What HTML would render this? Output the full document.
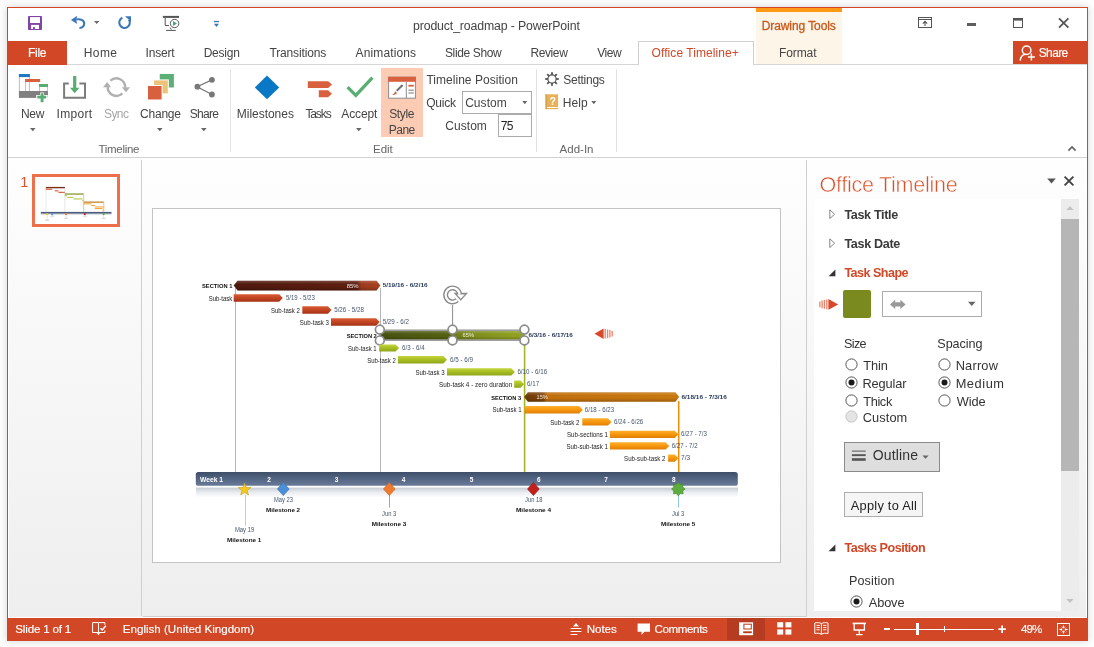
<!DOCTYPE html>
<html><head><meta charset="utf-8"><title>product_roadmap - PowerPoint</title><style>
html,body{margin:0;padding:0}
body{width:1094px;height:647px;position:relative;overflow:hidden;background:#fdfdfd;font-family:"Liberation Sans",sans-serif}
.a{position:absolute;display:block}
.t{position:absolute;white-space:nowrap;display:block}
#win{position:absolute;left:7px;top:7px;width:1079px;height:632px;border:1px solid #d24726;background:#fff;box-shadow:0 0 7px rgba(0,0,0,.17)}
</style></head><body>
<div id="win"></div>
<svg class="a" style="left:28px;top:16px" width="14" height="14" viewBox="0 0 14 14"><rect x="0" y="0" width="14" height="14" rx="0.8" fill="#8344a6"/><rect x="2" y="1.1" width="10" height="5.9" fill="#fff"/><rect x="3" y="8.9" width="8" height="4.1" fill="#fff"/><rect x="5" y="11.1" width="1.9" height="1.9" fill="#8344a6"/></svg>
<svg class="a" style="left:70px;top:15px" width="16" height="15" viewBox="0 0 16 15"><path d="M6.2 4.6C10 3.6 14.4 5 14.2 8.8C14 11.6 12 12.8 9.4 13" fill="none" stroke="#3b78ba" stroke-width="2.1"/><path d="M0.9 4.9L7.2 0.8L6.2 4.9L7.2 9Z" fill="#3b78ba"/></svg>
<svg class="a" style="left:94px;top:21px" width="6" height="4" viewBox="0 0 6 4"><path d="M0 0.1H5.4L2.7 3.1Z" fill="#6a6a6a"/></svg>
<svg class="a" style="left:117px;top:15px" width="16" height="15" viewBox="0 0 16 15"><path d="M5.4 2.8A5.3 5.3 0 1 0 11.9 4.6" fill="none" stroke="#3b78ba" stroke-width="2.1"/><path d="M8 1.2H14V7.2L11.4 4.2Z" fill="#3b78ba"/></svg>
<svg class="a" style="left:162px;top:15px" width="19" height="17" viewBox="0 0 19 17"><rect x="0.9" y="0.9" width="16.1" height="2" fill="#555"/><path d="M3.2 3V10.5H7" fill="none" stroke="#555" stroke-width="1"/><path d="M8.2 12.6L9.4 14.6M4 15.4H13.8" stroke="#555" stroke-width="1"/><circle cx="12.6" cy="8.5" r="4.2" fill="#fff" stroke="#5a5a5a" stroke-width="1"/><path d="M11 5.9V11.1L15 8.5Z" fill="#4aa587"/></svg>
<svg class="a" style="left:213px;top:20px" width="8" height="8" viewBox="0 0 8 8"><rect x="0.9" y="0.9" width="5.1" height="1.3" fill="#3b78ba"/><path d="M0.9 3.7H6L3.45 7Z" fill="#3b78ba"/></svg>
<span class="t" style="left:413.01px;top:18px;font-size:12.3px;line-height:16px;color:#444;letter-spacing:-0.126px;">product_roadmap - PowerPoint</span>
<div class="a" style="left:756px;top:8px;width:86px;height:56px;background:#fef5e9"></div>
<div class="a" style="left:756px;top:8px;width:86px;height:4px;background:#ff9a17"></div>
<span class="t" style="left:761.69px;top:18px;font-size:12.0px;line-height:16px;color:#c8581a;letter-spacing:-0.083px;-webkit-text-stroke:0.3px #c8581a;">Drawing Tools</span>
<svg class="a" style="left:918px;top:17px" width="15" height="12" viewBox="0 0 15 12"><rect x="0.5" y="0.5" width="13" height="10" fill="none" stroke="#555" stroke-width="1"/><path d="M0.5 2.5H13.5" stroke="#555"/><path d="M7 9V4.6M4.8 6.6L7 4.4L9.2 6.6" fill="none" stroke="#555" stroke-width="1.1"/></svg>
<div class="a" style="left:967px;top:23.4px;width:9px;height:2.200000000000003px;background:#5e5e5e"></div>
<svg class="a" style="left:1013px;top:17px" width="11" height="12" viewBox="0 0 11 12"><rect x="0.5" y="1.5" width="9" height="9" fill="none" stroke="#555" stroke-width="1"/><rect x="0" y="1" width="10" height="2.6" fill="#555"/></svg>
<svg class="a" style="left:1058px;top:17px" width="12" height="12" viewBox="0 0 12 12"><path d="M1 1.3L10.4 10.7M10.4 1.3L1 10.7" stroke="#555" stroke-width="1.75"/></svg>
<div class="a" style="left:8px;top:64px;width:1079px;height:1px;background:#d6d6d6"></div>
<div class="a" style="left:8px;top:41px;width:59px;height:24px;background:#d24726"></div>
<span class="t" style="left:27.89px;top:45px;font-size:12.0px;line-height:16px;color:#fff;letter-spacing:-0.233px;-webkit-text-stroke:0.15px #fff;">File</span>
<span class="t" style="left:83.69px;top:45px;font-size:12.0px;line-height:16px;color:#444;letter-spacing:0.433px;">Home</span>
<span class="t" style="left:145.57px;top:45px;font-size:12.0px;line-height:16px;color:#444;letter-spacing:-0.204px;">Insert</span>
<span class="t" style="left:203.69px;top:45px;font-size:12.0px;line-height:16px;color:#444;letter-spacing:-0.232px;">Design</span>
<span class="t" style="left:269.41px;top:45px;font-size:12.0px;line-height:16px;color:#444;letter-spacing:-0.130px;">Transitions</span>
<span class="t" style="left:355.55px;top:45px;font-size:12.0px;line-height:16px;color:#444;letter-spacing:0.129px;">Animations</span>
<span class="t" style="left:444.97px;top:45px;font-size:12.0px;line-height:16px;color:#444;letter-spacing:-0.371px;">Slide Show</span>
<span class="t" style="left:530.49px;top:45px;font-size:12.0px;line-height:16px;color:#444;letter-spacing:-0.404px;">Review</span>
<span class="t" style="left:597.25px;top:45px;font-size:12.0px;line-height:16px;color:#444;letter-spacing:-0.473px;">View</span>
<div class="a" style="left:638px;top:41px;width:116px;height:24px;background:#fff;border:1px solid #d0d0d0;border-bottom:none;box-sizing:border-box"></div>
<span class="t" style="left:651.57px;top:45px;font-size:12.0px;line-height:16px;color:#d24726;letter-spacing:0.075px;">Office Timeline+</span>
<span class="t" style="left:779.09px;top:45px;font-size:12.0px;line-height:16px;color:#444;letter-spacing:-0.116px;">Format</span>
<div class="a" style="left:1013px;top:41px;width:74px;height:23px;background:#d24726"></div>
<svg class="a" style="left:1019px;top:44px" width="17" height="18" viewBox="0 0 17 18"><circle cx="7.6" cy="6.2" r="4.3" fill="none" stroke="#fff" stroke-width="1.5"/><path d="M1.2 16.6C1.6 12.4 4 10.6 6.4 10.2" fill="none" stroke="#fff" stroke-width="1.5"/><path d="M12.4 9.6V16.6M8.9 13.1H15.9" stroke="#fff" stroke-width="1.5"/></svg>
<span class="t" style="left:1038.77px;top:45px;font-size:12.0px;line-height:16px;color:#fff;letter-spacing:-0.645px;-webkit-text-stroke:0.15px #fff;">Share</span>
<div class="a" style="left:8px;top:157px;width:1079px;height:1px;background:#d2d2d2"></div>
<svg class="a" style="left:18px;top:73px" width="31" height="30" viewBox="0 0 31 30"><path d="M1.4 3V19M7.6 9V19M11.4 4V19M21.6 14V19M29.4 14V25" stroke="#bdbdbd" stroke-width="1" fill="none"/><rect x="0.9" y="1" width="11" height="3.1" fill="#1f77c4"/><rect x="7.1" y="6" width="15" height="3" fill="#d9603f"/><rect x="21" y="11" width="9" height="3" fill="#57ad72"/><rect x="0.9" y="18" width="29" height="6.9" fill="#808080"/><path d="M22.1 19.6H26.1V22.1H29.7V26.1H26.1V29.9H22.1V26.1H18.2V22.1H22.1Z" fill="#fff"/><path d="M24.1 20.3V29.2M19.3 24.1H28.2" stroke="#57ad72" stroke-width="2.9"/></svg>
<span class="t" style="left:20.99px;top:106px;font-size:12.0px;line-height:16px;color:#444;letter-spacing:-0.280px;">New</span>
<svg class="a" style="left:29.9px;top:127.80000000000001px" width="6" height="4" viewBox="0 0 6 4"><path d="M0 0H5.6L2.8 3.2Z" fill="#666"/></svg>
<svg class="a" style="left:62px;top:75px" width="26" height="25" viewBox="0 0 26 25"><path d="M6.8 8.4H2.1V22.7H23V8.4H17.4" fill="none" stroke="#7c7c7c" stroke-width="2"/><path d="M12.7 1V14" stroke="#57ad72" stroke-width="3.2"/><path d="M8 12.7H17.4L12.7 18.2Z" fill="#57ad72"/></svg>
<span class="t" style="left:56.57px;top:106px;font-size:12.0px;line-height:16px;color:#444;letter-spacing:0.320px;">Import</span>
<svg class="a" style="left:102px;top:75px" width="30" height="25" viewBox="0 0 30 25"><path d="M8.5 5.7A8.7 8.7 0 0 1 23.1 12.6" fill="none" stroke="#b0b0b0" stroke-width="2.4"/><path d="M20.4 18.4A8.7 8.7 0 0 1 5.7 11.8" fill="none" stroke="#b0b0b0" stroke-width="2.4"/><path d="M19.9 12.3H28.1L23.9 17.2Z" fill="#b0b0b0"/><path d="M1 12.3H9.1L5.2 7.1Z" fill="#b0b0b0"/></svg>
<span class="t" style="left:104.07px;top:106px;font-size:12.0px;line-height:16px;color:#a6a6a6;letter-spacing:-0.607px;">Sync</span>
<svg class="a" style="left:147px;top:73px" width="28" height="28" viewBox="0 0 28 28"><rect x="12.2" y="0.4" width="15.2" height="14.6" fill="#5cb077" stroke="#fff" stroke-width="1"/><rect x="6.6" y="6.9" width="14.7" height="14" fill="#ecc377" stroke="#fff" stroke-width="1"/><rect x="0.5" y="12.5" width="14.6" height="14.5" fill="#d9603f" stroke="#fff" stroke-width="1"/></svg>
<span class="t" style="left:140.05px;top:106px;font-size:12.0px;line-height:16px;color:#444;letter-spacing:-0.228px;">Change</span>
<svg class="a" style="left:157.4px;top:127.80000000000001px" width="6" height="4" viewBox="0 0 6 4"><path d="M0 0H5.6L2.8 3.2Z" fill="#666"/></svg>
<svg class="a" style="left:193px;top:75px" width="25" height="25" viewBox="0 0 25 25"><path d="M18.9 4.8L4.2 11.7L18.9 19.5" fill="none" stroke="#787878" stroke-width="1.3"/><circle cx="18.9" cy="4.8" r="2.9" fill="#787878"/><circle cx="4.4" cy="11.7" r="2.9" fill="#787878"/><circle cx="18.9" cy="19.5" r="2.9" fill="#787878"/></svg>
<span class="t" style="left:189.77px;top:106px;font-size:12.0px;line-height:16px;color:#444;letter-spacing:-0.695px;">Share</span>
<svg class="a" style="left:201.1px;top:127.80000000000001px" width="6" height="4" viewBox="0 0 6 4"><path d="M0 0H5.6L2.8 3.2Z" fill="#666"/></svg>
<div class="a" style="left:230px;top:69px;width:1px;height:83px;background:#e2e2e2"></div>
<span class="t" style="left:98.42px;top:142px;font-size:11.5px;line-height:15px;color:#666;letter-spacing:-0.276px;">Timeline</span>
<svg class="a" style="left:254px;top:75px" width="26" height="25" viewBox="0 0 26 25"><path d="M13 0.5L25.2 12.4L13 24.3L0.8 12.4Z" fill="#0a78c4"/></svg>
<span class="t" style="left:236.79px;top:106px;font-size:12.0px;line-height:16px;color:#444;letter-spacing:-0.027px;">Milestones</span>
<svg class="a" style="left:307px;top:80px" width="26" height="18" viewBox="0 0 26 18"><path d="M0.8 1.2H21.2L25 4.6L21.2 8H0.8Z" fill="#d9603f"/><path d="M11.8 10.3H21L25 13.8L21 17.2H11.8Z" fill="#d9603f"/></svg>
<span class="t" style="left:305.41px;top:106px;font-size:12.0px;line-height:16px;color:#444;letter-spacing:-1.105px;">Tasks</span>
<svg class="a" style="left:346px;top:76px" width="28" height="22" viewBox="0 0 28 22"><path d="M1.6 11.2L9.8 19.4L26.4 1.6" fill="none" stroke="#57ad72" stroke-width="3.2"/></svg>
<span class="t" style="left:341.35px;top:106px;font-size:12.0px;line-height:16px;color:#444;letter-spacing:-0.124px;">Accept</span>
<svg class="a" style="left:356.2px;top:127.80000000000001px" width="6" height="4" viewBox="0 0 6 4"><path d="M0 0H5.6L2.8 3.2Z" fill="#666"/></svg>
<div class="a" style="left:381px;top:68px;width:42px;height:69px;background:#fbcbb3"></div>
<svg class="a" style="left:388px;top:76px" width="28" height="23" viewBox="0 0 28 23"><rect x="0.6" y="1.2" width="26.8" height="21" fill="#fff" stroke="#8c8c8c" stroke-width="1"/><rect x="0.1" y="0.8" width="27.8" height="5" fill="#d9603f"/><path d="M18.3 6V22" stroke="#8c8c8c" stroke-width="1"/><path d="M8.8 14.8L14.6 9" stroke="#707070" stroke-width="2"/><path d="M3.8 18.6C6 18.4 6.6 16.6 7.2 15.2L9 17C8 18.4 6.2 19.4 3.8 18.6Z" fill="#d9603f"/><rect x="20.4" y="8.8" width="5.4" height="1.8" fill="#d9603f"/><path d="M20.4 14.2H25.8M20.4 17H25.8" stroke="#777" stroke-width="1"/></svg>
<span class="t" style="left:389.17px;top:106px;font-size:12.0px;line-height:16px;color:#444;letter-spacing:-0.350px;">Style</span>
<span class="t" style="left:388.69px;top:122px;font-size:12.0px;line-height:16px;color:#444;letter-spacing:-0.480px;">Pane</span>
<span class="t" style="left:426.41px;top:72px;font-size:12.0px;line-height:16px;color:#444;letter-spacing:0.031px;">Timeline Position</span>
<span class="t" style="left:426.17px;top:95px;font-size:12.0px;line-height:16px;color:#444;letter-spacing:-0.190px;">Quick</span>
<div class="a" style="left:462px;top:91px;width:70px;height:23px;background:#fff;border:1px solid #ababab;box-sizing:border-box"></div>
<span class="t" style="left:465.15px;top:95px;font-size:12.0px;line-height:16px;color:#444;letter-spacing:0.068px;">Custom</span>
<svg class="a" style="left:522px;top:101px" width="6" height="4" viewBox="0 0 6 4"><path d="M0.3 0H5.3L2.8 3.2Z" fill="#666"/></svg>
<span class="t" style="left:445.35px;top:118px;font-size:12.0px;line-height:16px;color:#444;letter-spacing:0.028px;">Custom</span>
<div class="a" style="left:498px;top:114px;width:34px;height:23px;background:#fff;border:1px solid #ababab;box-sizing:border-box"></div>
<span class="t" style="left:500.65px;top:118px;font-size:12.0px;line-height:16px;color:#222;letter-spacing:-0.660px;">75</span>
<div class="a" style="left:536px;top:69px;width:1px;height:83px;background:#e2e2e2"></div>
<span class="t" style="left:373.03px;top:142px;font-size:11.5px;line-height:15px;color:#666;letter-spacing:-0.058px;">Edit</span>
<svg class="a" style="left:545px;top:72px" width="14" height="14" viewBox="0 0 14 14"><rect x="6.1" y="0.2" width="1.8" height="13.6" fill="#555" transform="rotate(0 7 7)"/><rect x="6.1" y="0.2" width="1.8" height="13.6" fill="#555" transform="rotate(45 7 7)"/><rect x="6.1" y="0.2" width="1.8" height="13.6" fill="#555" transform="rotate(90 7 7)"/><rect x="6.1" y="0.2" width="1.8" height="13.6" fill="#555" transform="rotate(135 7 7)"/><circle cx="7" cy="7" r="4.7" fill="#555"/><circle cx="7" cy="7" r="3.5" fill="#fff"/></svg>
<span class="t" style="left:563.27px;top:72px;font-size:12.0px;line-height:16px;color:#444;letter-spacing:-0.254px;">Settings</span>
<svg class="a" style="left:545px;top:94px" width="14" height="16" viewBox="0 0 14 16"><rect x="0.5" y="0.3" width="12.6" height="14.6" fill="#e8b158"/><rect x="0.5" y="13" width="12.6" height="1" fill="#fff"/><rect x="0.5" y="14" width="12.6" height="1.2" fill="#e8b158"/><rect x="0.5" y="0.3" width="1.6" height="14.9" fill="#dba347"/><text x="7.6" y="11.4" font-family="Liberation Sans,sans-serif" font-size="10.5" font-weight="bold" fill="#fff" text-anchor="middle">?</text></svg>
<span class="t" style="left:562.79px;top:95px;font-size:12.0px;line-height:16px;color:#444;letter-spacing:0.040px;">Help</span>
<svg class="a" style="left:590.5px;top:101px" width="6" height="4" viewBox="0 0 6 4"><path d="M0.3 0H5.3L2.8 3.2Z" fill="#666"/></svg>
<span class="t" style="left:559.55px;top:142px;font-size:11.5px;line-height:15px;color:#666;letter-spacing:0.013px;">Add-In</span>
<div class="a" style="left:616px;top:69px;width:1px;height:83px;background:#e2e2e2"></div>
<svg class="a" style="left:1067px;top:145px" width="10" height="7" viewBox="0 0 10 7"><path d="M1.4 5.6L5 2L8.6 5.6" fill="none" stroke="#666" stroke-width="1.7"/></svg>
<div class="a" style="left:9px;top:158px;width:1077px;height:459px;background:linear-gradient(to bottom,#fefefe 0%,#f7f7f7 45%,#eeeeee 100%)"></div>
<div class="a" style="left:141px;top:160px;width:1px;height:456px;background:#cfcfcf"></div>
<div class="a" style="left:143px;top:615.5px;width:664px;height:1.0px;background:#cdcdcd"></div>
<span class="t" style="left:20.23px;top:173px;font-size:14.5px;line-height:19px;color:#d9532f;letter-spacing:-0.880px;">1</span>
<div class="a" style="left:152px;top:208px;width:629px;height:355px;background:#fff;border:1px solid #c4c4c4;box-sizing:border-box"></div>
<svg class="a" style="left:152px;top:208px" width="629" height="354" viewBox="152 208 629 354" font-family="Liberation Sans,sans-serif"><defs><linearGradient id="gR" x1="0" y1="0" x2="0" y2="1"><stop offset="0" stop-color="#d85c35"/><stop offset="0.45" stop-color="#c44723"/><stop offset="1" stop-color="#a43216"/></linearGradient><linearGradient id="gG" x1="0" y1="0" x2="0" y2="1"><stop offset="0" stop-color="#c3d53a"/><stop offset="0.45" stop-color="#a9c024"/><stop offset="1" stop-color="#8ea31a"/></linearGradient><linearGradient id="gO" x1="0" y1="0" x2="0" y2="1"><stop offset="0" stop-color="#ffb031"/><stop offset="0.45" stop-color="#f8980f"/><stop offset="1" stop-color="#e07f05"/></linearGradient><linearGradient id="gT" x1="0" y1="0" x2="0" y2="1"><stop offset="0" stop-color="#3e4e69"/><stop offset="0.45" stop-color="#51637f"/><stop offset="1" stop-color="#697b99"/></linearGradient><linearGradient id="gSh" x1="0" y1="0" x2="0" y2="1"><stop offset="0" stop-color="#c6ccd5"/><stop offset="0.45" stop-color="#e8ebef"/><stop offset="1" stop-color="#ffffff"/></linearGradient><linearGradient id="gS1" x1="0" y1="0" x2="1" y2="0"><stop offset="0" stop-color="#4f190d"/><stop offset="0.84" stop-color="#5e1f10"/><stop offset="0.87" stop-color="#9c3a1f"/><stop offset="1" stop-color="#a8401f"/></linearGradient><linearGradient id="gS2" x1="0" y1="0" x2="1" y2="0"><stop offset="0" stop-color="#485210"/><stop offset="0.48" stop-color="#556112"/><stop offset="0.52" stop-color="#6f7d18"/><stop offset="0.64" stop-color="#7d8c1c"/><stop offset="1" stop-color="#93a422"/></linearGradient><linearGradient id="gS3" x1="0" y1="0" x2="1" y2="0"><stop offset="0" stop-color="#6f3a08"/><stop offset="0.12" stop-color="#7e440a"/><stop offset="0.15" stop-color="#c06f0e"/><stop offset="1" stop-color="#c9780f"/></linearGradient><linearGradient id="gl" x1="0" y1="0" x2="0" y2="1"><stop offset="0" stop-color="#fff" stop-opacity="0.2"/><stop offset="0.35" stop-color="#fff" stop-opacity="0"/><stop offset="0.6" stop-color="#000" stop-opacity="0"/><stop offset="1" stop-color="#000" stop-opacity="0.22"/></linearGradient></defs><path d="M235.5 288V472M380.5 288V472" stroke="#b5b5b5" stroke-width="1" fill="none"/><path d="M524.6 340V472" stroke="#a3b626" stroke-width="1.6" fill="none"/><path d="M678.7 401V472" stroke="#f08c08" stroke-width="1.5" fill="none"/><path d="M233.7 285.6L237.5 280.7H376.59999999999997L380.4 285.6L376.59999999999997 290.5H237.5Z" fill="url(#gS1)"/><path d="M233.7 285.6L237.5 280.7H376.59999999999997L380.4 285.6L376.59999999999997 290.5H237.5Z" fill="url(#gl)"/><text x="202.0" y="287.7" font-size="6.2" fill="#111" font-weight="bold" textLength="30.4" lengthAdjust="spacingAndGlyphs">SECTION 1</text><text x="346.7" y="287.6" font-size="5.8" fill="#f3e6e0" textLength="11.8" lengthAdjust="spacingAndGlyphs">85%</text><text x="382.7" y="287.2" font-size="6.2" fill="#25375a" font-weight="bold" textLength="44.9" lengthAdjust="spacingAndGlyphs">5/19/16 - 6/2/16</text><path d="M233.7 294.2H279.2L282.8 297.95L279.2 301.7H233.7Z" fill="url(#gR)"/><text x="208.7" y="300.9" font-size="6.4" fill="#222" textLength="23.7" lengthAdjust="spacingAndGlyphs">Sub-task</text><text x="286.0" y="300.0" font-size="6.4" fill="#44546a" textLength="28.8" lengthAdjust="spacingAndGlyphs">5/19 - 5/23</text><path d="M302.3 306.2H327.9L331.5 309.95L327.9 313.7H302.3Z" fill="url(#gR)"/><text x="271.0" y="312.9" font-size="6.4" fill="#222" textLength="28.8" lengthAdjust="spacingAndGlyphs">Sub-task 2</text><text x="334.2" y="312.0" font-size="6.4" fill="#44546a" textLength="29.7" lengthAdjust="spacingAndGlyphs">5/26 - 5/28</text><path d="M331 318.2H376.09999999999997L379.7 321.95L376.09999999999997 325.7H331Z" fill="url(#gR)"/><text x="299.8" y="324.9" font-size="6.4" fill="#222" textLength="29.2" lengthAdjust="spacingAndGlyphs">Sub-task 3</text><text x="382.7" y="324.0" font-size="6.4" fill="#44546a" textLength="26.2" lengthAdjust="spacingAndGlyphs">5/29 - 6/2</text><rect x="380.3" y="331" width="144" height="8.7" fill="url(#gS2)"/><rect x="380.3" y="331" width="144" height="8.7" fill="url(#gl)"/><rect x="380" y="330.2" width="144.4" height="10" fill="none" stroke="#9a9a9a" stroke-width="1.5"/><text x="346.7" y="337.6" font-size="6.2" fill="#111" font-weight="bold" textLength="30.1" lengthAdjust="spacingAndGlyphs">SECTION 2</text><text x="462.5" y="337.2" font-size="5.8" fill="#eef0d8" textLength="11.5" lengthAdjust="spacingAndGlyphs">65%</text><text x="528.4" y="337.0" font-size="6.2" fill="#25375a" font-weight="bold" textLength="44.4" lengthAdjust="spacingAndGlyphs">6/3/16 - 6/17/16</text><path d="M452.6 305V325" stroke="#8c8c8c" stroke-width="1"/><path d="M459.6 294.6A7 7 0 1 0 457.2 300.2" fill="none" stroke="#8a8a8a" stroke-width="5"/><path d="M453.6 292.8H468L460.8 300.8Z" fill="#8a8a8a"/><path d="M459.6 294.6A7 7 0 1 0 457.2 300.2" fill="none" stroke="#fff" stroke-width="2.2"/><path d="M456.8 294.4H464.8L460.8 298.8Z" fill="#fff"/><circle cx="379.8" cy="329.6" r="4.4" fill="#fff" stroke="#8a8a8a" stroke-width="1.7"/><circle cx="379.8" cy="340.4" r="4.4" fill="#fff" stroke="#8a8a8a" stroke-width="1.7"/><circle cx="452.5" cy="329.6" r="4.4" fill="#fff" stroke="#8a8a8a" stroke-width="1.7"/><circle cx="452.5" cy="340.4" r="4.4" fill="#fff" stroke="#8a8a8a" stroke-width="1.7"/><circle cx="524.4" cy="329.6" r="4.4" fill="#fff" stroke="#8a8a8a" stroke-width="1.7"/><circle cx="524.4" cy="340.4" r="4.4" fill="#fff" stroke="#8a8a8a" stroke-width="1.7"/><path d="M594.5 333.8L603.6 328.6V339Z" fill="#d9472b"/><path d="M605.2 329V338.6M607.6 329.4V338.2M609.9 330V337.6M612.2 331V336.6" stroke="#e9826a" stroke-width="1.3"/><path d="M379.2 344.4H395.5L399.1 348.0L395.5 351.6H379.2Z" fill="url(#gG)"/><text x="348.0" y="350.9" font-size="6.4" fill="#222" textLength="28.7" lengthAdjust="spacingAndGlyphs">Sub-task 1</text><text x="402.1" y="350.0" font-size="6.4" fill="#44546a" textLength="22.5" lengthAdjust="spacingAndGlyphs">6/3 - 6/4</text><path d="M397.9 356.1H443.4L447 359.85L443.4 363.6H397.9Z" fill="url(#gG)"/><text x="367.2" y="362.9" font-size="6.4" fill="#222" textLength="28.7" lengthAdjust="spacingAndGlyphs">Sub-task 2</text><text x="450.0" y="361.8" font-size="6.4" fill="#44546a" textLength="23.0" lengthAdjust="spacingAndGlyphs">6/5 - 6/9</text><path d="M447 368.3H511.29999999999995L514.9 371.9L511.29999999999995 375.5H447Z" fill="url(#gG)"/><text x="415.4" y="374.9" font-size="6.4" fill="#222" textLength="29.2" lengthAdjust="spacingAndGlyphs">Sub-task 3</text><text x="517.4" y="374.2" font-size="6.4" fill="#44546a" textLength="29.7" lengthAdjust="spacingAndGlyphs">6/10 - 6/16</text><path d="M514.2 380.6H520.5L524.1 384.20000000000005L520.5 387.8H514.2Z" fill="url(#gG)"/><text x="439.0" y="387.3" font-size="6.4" fill="#222" textLength="73.2" lengthAdjust="spacingAndGlyphs">Sub-task 4 - zero duration</text><text x="527.1" y="386.2" font-size="6.4" fill="#44546a" textLength="12.0" lengthAdjust="spacingAndGlyphs">6/17</text><path d="M524.1 397.05L527.9 392.3H675.4000000000001L679.2 397.05L675.4000000000001 401.8H527.9Z" fill="url(#gS3)"/><path d="M524.1 397.05L527.9 392.3H675.4000000000001L679.2 397.05L675.4000000000001 401.8H527.9Z" fill="url(#gl)"/><text x="491.2" y="399.5" font-size="6.2" fill="#111" font-weight="bold" textLength="29.9" lengthAdjust="spacingAndGlyphs">SECTION 3</text><text x="536.6" y="399.2" font-size="5.8" fill="#f6ead8" textLength="11.3" lengthAdjust="spacingAndGlyphs">15%</text><text x="681.4" y="399.0" font-size="6.2" fill="#25375a" font-weight="bold" textLength="45.4" lengthAdjust="spacingAndGlyphs">6/18/16 - 7/3/16</text><path d="M524.7 406H579.1999999999999L582.8 409.75L579.1999999999999 413.5H524.7Z" fill="url(#gO)"/><text x="492.4" y="412.3" font-size="6.4" fill="#222" textLength="29.2" lengthAdjust="spacingAndGlyphs">Sub-task 1</text><text x="584.8" y="411.8" font-size="6.4" fill="#44546a" textLength="29.4" lengthAdjust="spacingAndGlyphs">6/18 - 6/23</text><path d="M582.3 418.3H607.9L611.5 421.9L607.9 425.5H582.3Z" fill="url(#gO)"/><text x="550.3" y="424.7" font-size="6.4" fill="#222" textLength="29.2" lengthAdjust="spacingAndGlyphs">Sub-task 2</text><text x="614.0" y="423.8" font-size="6.4" fill="#44546a" textLength="29.2" lengthAdjust="spacingAndGlyphs">6/24 - 6/26</text><path d="M609.9 430.7H674.8L678.4 434.29999999999995L674.8 437.9H609.9Z" fill="url(#gO)"/><text x="567.0" y="437.1" font-size="6.4" fill="#222" textLength="40.9" lengthAdjust="spacingAndGlyphs">Sub-sections 1</text><text x="681.0" y="436.2" font-size="6.4" fill="#44546a" textLength="25.9" lengthAdjust="spacingAndGlyphs">6/27 - 7/3</text><path d="M609.9 442.3H665.6L669.2 445.95000000000005L665.6 449.6H609.9Z" fill="url(#gO)"/><text x="566.5" y="448.9" font-size="6.4" fill="#222" textLength="41.4" lengthAdjust="spacingAndGlyphs">Sub-sub-task 1</text><text x="671.7" y="448.0" font-size="6.4" fill="#44546a" textLength="25.9" lengthAdjust="spacingAndGlyphs">6/27 - 7/2</text><path d="M668.1 454.5H674.8L678.4 458.1L674.8 461.7H668.1Z" fill="url(#gO)"/><text x="624.1" y="460.9" font-size="6.4" fill="#222" textLength="41.4" lengthAdjust="spacingAndGlyphs">Sub-sub-task 2</text><text x="681.0" y="460.0" font-size="6.4" fill="#44546a" textLength="9.1" lengthAdjust="spacingAndGlyphs">7/3</text><rect x="196" y="487.6" width="542" height="10" fill="url(#gSh)"/><rect x="195.8" y="472" width="542" height="13.8" rx="2.6" fill="url(#gT)"/><text x="200.0" y="481.8" font-size="6.3" fill="#fff" font-weight="bold" textLength="23.0" lengthAdjust="spacingAndGlyphs">Week 1</text><text x="267.2" y="481.8" font-size="6.3" fill="#fff" font-weight="bold" textLength="3.6" lengthAdjust="spacingAndGlyphs">2</text><text x="334.8" y="481.8" font-size="6.3" fill="#fff" font-weight="bold" textLength="3.6" lengthAdjust="spacingAndGlyphs">3</text><text x="401.8" y="481.8" font-size="6.3" fill="#fff" font-weight="bold" textLength="3.6" lengthAdjust="spacingAndGlyphs">4</text><text x="469.7" y="481.8" font-size="6.3" fill="#fff" font-weight="bold" textLength="3.6" lengthAdjust="spacingAndGlyphs">5</text><text x="537.0" y="481.8" font-size="6.3" fill="#fff" font-weight="bold" textLength="3.6" lengthAdjust="spacingAndGlyphs">6</text><text x="604.2" y="481.8" font-size="6.3" fill="#fff" font-weight="bold" textLength="3.6" lengthAdjust="spacingAndGlyphs">7</text><text x="672.0" y="481.8" font-size="6.3" fill="#fff" font-weight="bold" textLength="3.6" lengthAdjust="spacingAndGlyphs">8</text><path d="M245.5 495V525.6" stroke="#f6d040" stroke-width="1"/><polygon points="244.6,483.0 246.2,487.4 250.9,487.6 247.2,490.4 248.5,494.9 244.6,492.3 240.7,494.9 242.0,490.4 238.3,487.6 243.0,487.4" fill="#f7c81e" stroke="#c79a12" stroke-width="0.6"/><text x="234.9" y="532.2" font-size="6.4" fill="#44546a" textLength="19.4" lengthAdjust="spacingAndGlyphs">May 19</text><text x="226.9" y="541.7" font-size="6.2" fill="#111" font-weight="bold" textLength="34.4" lengthAdjust="spacingAndGlyphs">Milestone 1</text><path d="M283.3 482.4L289.2 489L283.3 495.6L277.40000000000003 489Z" fill="#4b8fd8" stroke="#346fb0" stroke-width="0.6"/><text x="274.0" y="502.4" font-size="6.4" fill="#44546a" textLength="18.9" lengthAdjust="spacingAndGlyphs">May 23</text><text x="266.0" y="511.6" font-size="6.2" fill="#111" font-weight="bold" textLength="34.1" lengthAdjust="spacingAndGlyphs">Milestone 2</text><path d="M389.5 495V507.5" stroke="#ef8a66" stroke-width="1"/><path d="M389.3 482.4L395.2 489L389.3 495.6L383.40000000000003 489Z" fill="#ee7a2c" stroke="#c95f1a" stroke-width="0.6"/><text x="382.1" y="516.2" font-size="6.4" fill="#44546a" textLength="14.2" lengthAdjust="spacingAndGlyphs">Jun 3</text><text x="371.8" y="525.6" font-size="6.2" fill="#111" font-weight="bold" textLength="34.4" lengthAdjust="spacingAndGlyphs">Milestone 3</text><path d="M533.4 482.4L539.3 489L533.4 495.6L527.5 489Z" fill="#c2201c" stroke="#8e1411" stroke-width="0.6"/><text x="525.1" y="502.2" font-size="6.4" fill="#44546a" textLength="17.3" lengthAdjust="spacingAndGlyphs">Jun 18</text><text x="516.0" y="511.7" font-size="6.2" fill="#111" font-weight="bold" textLength="35.0" lengthAdjust="spacingAndGlyphs">Milestone 4</text><path d="M678.5 495V507.5" stroke="#92c8e4" stroke-width="1"/><polygon points="678.3,482.2 680.2,484.5 683.1,484.2 682.8,487.1 685.1,489.0 682.8,490.9 683.1,493.8 680.2,493.5 678.3,495.8 676.4,493.5 673.5,493.8 673.8,490.9 671.5,489.0 673.8,487.1 673.5,484.2 676.4,484.5" fill="#5cad3e" stroke="#3d8526" stroke-width="0.6"/><text x="672.0" y="515.9" font-size="6.4" fill="#44546a" textLength="12.2" lengthAdjust="spacingAndGlyphs">Jul 3</text><text x="660.9" y="525.6" font-size="6.2" fill="#111" font-weight="bold" textLength="34.4" lengthAdjust="spacingAndGlyphs">Milestone 5</text></svg>
<div class="a" style="left:32px;top:174px;width:88px;height:53px;background:#fff;border:3px solid #ee6f4b;box-sizing:border-box"></div>
<svg class="a" style="left:32px;top:174px" width="88" height="53" viewBox="32 174 88 53"><path d="M46.0 188.2V211.9M64.9 188.2V211.9" stroke="#d8d8d8" stroke-width="0.6"/><rect x="45.8" y="186.9" width="19.1" height="1.4" fill="#7a3019"/><rect x="45.8" y="188.7" width="6.4" height="1.1" fill="#cf5a38"/><rect x="54.7" y="190.3" width="3.8" height="1.1" fill="#cf5a38"/><rect x="58.4" y="191.8" width="6.4" height="1.1" fill="#cf5a38"/><rect x="64.8" y="193.4" width="18.8" height="1.3" fill="#8a9830"/><rect x="64.7" y="195.2" width="2.6" height="1.1" fill="#b7c84c"/><rect x="67.2" y="196.8" width="6.4" height="1.1" fill="#b7c84c"/><rect x="73.6" y="198.4" width="8.9" height="1.1" fill="#b7c84c"/><rect x="82.3" y="199.9" width="1.3" height="1.1" fill="#b7c84c"/><rect x="83.6" y="201.5" width="20.2" height="1.3" fill="#c78428"/><rect x="83.6" y="203.3" width="7.7" height="1.1" fill="#f6a93c"/><rect x="91.2" y="204.9" width="3.8" height="1.1" fill="#f6a93c"/><rect x="94.8" y="206.4" width="8.9" height="1.1" fill="#f6a93c"/><rect x="94.8" y="208.0" width="7.7" height="1.1" fill="#f6a93c"/><rect x="102.4" y="209.6" width="1.3" height="1.1" fill="#f6a93c"/><path d="M83.7 194.7V211.9" stroke="#b5c455" stroke-width="0.7"/><path d="M103.8 202.7V211.9" stroke="#f2a540" stroke-width="0.7"/><rect x="40.8" y="211.9" width="70.7" height="1.8" fill="#4c5d7b"/><rect x="40.8" y="213.9" width="70.7" height="1.1" fill="#dfe2e8"/><path d="M47.2 214.1V218.8" stroke="#f3c51e" stroke-width="0.6" opacity="0.7"/><rect x="46.3" y="213.2" width="1.8" height="1.8" fill="#f3c51e"/><rect x="51.3" y="213.2" width="1.8" height="1.8" fill="#4b8fd8"/><path d="M66.0 214.1V216.5" stroke="#ee7a2c" stroke-width="0.6" opacity="0.7"/><rect x="65.1" y="213.2" width="1.8" height="1.8" fill="#ee7a2c"/><rect x="83.9" y="213.2" width="1.8" height="1.8" fill="#c2201c"/><path d="M103.7 214.1V216.5" stroke="#5cad3e" stroke-width="0.6" opacity="0.7"/><rect x="102.8" y="213.2" width="1.8" height="1.8" fill="#5cad3e"/><rect x="45.8" y="219.1" width="2.6" height="0.6" fill="#c9c9c9"/><rect x="51.0" y="215.3" width="2.5" height="0.6" fill="#c9c9c9"/><rect x="65.1" y="217.2" width="1.8" height="0.6" fill="#c9c9c9"/><rect x="83.7" y="215.3" width="2.2" height="0.6" fill="#c9c9c9"/><rect x="102.9" y="217.2" width="1.6" height="0.6" fill="#c9c9c9"/><rect x="44.9" y="220.4" width="4.4" height="0.6" fill="#c9c9c9"/><rect x="50.0" y="216.5" width="4.4" height="0.6" fill="#c9c9c9"/><rect x="63.8" y="218.3" width="4.4" height="0.6" fill="#c9c9c9"/><rect x="82.6" y="216.5" width="4.6" height="0.6" fill="#c9c9c9"/><rect x="101.5" y="218.3" width="4.4" height="0.6" fill="#c9c9c9"/></svg>
<div class="a" style="left:806px;top:160px;width:1px;height:456px;background:#cfcfcf"></div>
<div class="a" style="left:814px;top:199px;width:247px;height:412px;background:#fff"></div>
<span class="t" style="left:819.59px;top:171px;font-size:21.6px;line-height:28px;color:#d8532c;letter-spacing:-0.309px;-webkit-text-stroke:0.5px #fdfdfd;">Office Timeline</span>
<svg class="a" style="left:1047px;top:178px" width="10" height="6" viewBox="0 0 10 6"><path d="M0.2 0.6H8.8L4.5 5.4Z" fill="#555"/></svg>
<svg class="a" style="left:1063px;top:175px" width="12" height="12" viewBox="0 0 12 12"><path d="M1.6 1.6L10.4 10.4M10.4 1.6L1.6 10.4" stroke="#444" stroke-width="1.9"/></svg>
<div class="a" style="left:1061px;top:199px;width:18px;height:412px;background:#ececec"></div>
<div class="a" style="left:1061px;top:218.6px;width:18px;height:252.70000000000002px;background:#b6b6b6"></div>
<svg class="a" style="left:1066px;top:205px" width="8" height="6" viewBox="0 0 8 6"><path d="M0.4 5L4 1L7.6 5Z" fill="#c2c2c2"/></svg>
<svg class="a" style="left:1066px;top:598px" width="8" height="6" viewBox="0 0 8 6"><path d="M0.4 1L4 5L7.6 1Z" fill="#c2c2c2"/></svg>
<svg class="a" style="left:829px;top:209.3px" width="7" height="11" viewBox="0 0 7 11"><path d="M0.8 0.8L5.6 5.2L0.8 9.6Z" fill="#fff" stroke="#777" stroke-width="0.9"/></svg>
<span class="t" style="left:844.42px;top:207px;font-size:12.6px;line-height:16px;color:#3a3a3a;letter-spacing:-0.350px;font-weight:bold;">Task Title</span>
<svg class="a" style="left:829px;top:238.3px" width="7" height="11" viewBox="0 0 7 11"><path d="M0.8 0.8L5.6 5.2L0.8 9.6Z" fill="#fff" stroke="#777" stroke-width="0.9"/></svg>
<span class="t" style="left:844.42px;top:236px;font-size:12.6px;line-height:16px;color:#3a3a3a;letter-spacing:-0.336px;font-weight:bold;">Task Date</span>
<svg class="a" style="left:828px;top:268.6px" width="9" height="8" viewBox="0 0 9 8"><path d="M7.4 0.4V7.2H0.6Z" fill="#333"/></svg>
<span class="t" style="left:844.42px;top:265px;font-size:12.6px;line-height:16px;color:#d24726;letter-spacing:-0.541px;font-weight:bold;">Task Shape</span>
<svg class="a" style="left:819px;top:298px" width="20" height="13" viewBox="0 0 20 13"><path d="M19.2 6.4L9.4 1V11.8Z" fill="#d9472b"/><path d="M7.8 1.6V11.2M5.4 2V10.8M3.1 2.6V10.2M0.9 3.6V9.2" stroke="#e9826a" stroke-width="1.3"/></svg>
<div class="a" style="left:843px;top:290px;width:28px;height:28px;background:#7b8a1e;border-radius:2px"></div>
<div class="a" style="left:882px;top:291px;width:100px;height:26px;background:#fff;border:1px solid #ababab;box-sizing:border-box"></div>
<svg class="a" style="left:889px;top:299px" width="18" height="11" viewBox="0 0 18 11"><path d="M1 5.4L6.2 0.8V3.2H11.4V0.8L16.6 5.4L11.4 10V7.6H6.2V10Z" fill="#999"/></svg>
<svg class="a" style="left:967px;top:301px" width="10" height="6" viewBox="0 0 10 6"><path d="M1 0.8H8.6L4.8 5Z" fill="#666"/></svg>
<span class="t" style="left:844.05px;top:336px;font-size:12.6px;line-height:16px;color:#333;letter-spacing:-0.654px;">Size</span>
<span class="t" style="left:937.35px;top:336px;font-size:12.6px;line-height:16px;color:#333;letter-spacing:-0.075px;">Spacing</span>
<svg class="a" style="left:844.5px;top:357.8px" width="13" height="13" viewBox="0 0 13 13"><circle cx="6.5" cy="6.5" r="5.6" fill="#fff" stroke="#555" stroke-width="1"/></svg>
<span class="t" style="left:863.19px;top:357px;font-size:12.8px;line-height:17px;color:#333;letter-spacing:-0.112px;">Thin</span>
<svg class="a" style="left:844.5px;top:375.8px" width="13" height="13" viewBox="0 0 13 13"><circle cx="6.5" cy="6.5" r="5.6" fill="#fff" stroke="#555" stroke-width="1"/><circle cx="6.5" cy="6.5" r="3" fill="#1a1a1a"/></svg>
<span class="t" style="left:862.43px;top:375px;font-size:12.8px;line-height:17px;color:#333;letter-spacing:-0.108px;">Regular</span>
<svg class="a" style="left:844.5px;top:393.6px" width="13" height="13" viewBox="0 0 13 13"><circle cx="6.5" cy="6.5" r="5.6" fill="#fff" stroke="#555" stroke-width="1"/></svg>
<span class="t" style="left:863.19px;top:393px;font-size:12.8px;line-height:17px;color:#333;letter-spacing:-0.366px;">Thick</span>
<svg class="a" style="left:844.5px;top:409.7px" width="13" height="13" viewBox="0 0 13 13"><circle cx="6.5" cy="6.5" r="5.6" fill="#e4e4e4" stroke="#c4c4c4" stroke-width="1"/></svg>
<span class="t" style="left:862.81px;top:409px;font-size:12.8px;line-height:17px;color:#333;letter-spacing:0.075px;">Custom</span>
<svg class="a" style="left:937.5px;top:357.8px" width="13" height="13" viewBox="0 0 13 13"><circle cx="6.5" cy="6.5" r="5.6" fill="#fff" stroke="#555" stroke-width="1"/></svg>
<span class="t" style="left:955.63px;top:357px;font-size:12.8px;line-height:17px;color:#333;letter-spacing:0.216px;">Narrow</span>
<svg class="a" style="left:937.5px;top:375.8px" width="13" height="13" viewBox="0 0 13 13"><circle cx="6.5" cy="6.5" r="5.6" fill="#fff" stroke="#555" stroke-width="1"/><circle cx="6.5" cy="6.5" r="3" fill="#1a1a1a"/></svg>
<span class="t" style="left:955.63px;top:375px;font-size:12.8px;line-height:17px;color:#333;letter-spacing:0.570px;">Medium</span>
<svg class="a" style="left:937.5px;top:393.6px" width="13" height="13" viewBox="0 0 13 13"><circle cx="6.5" cy="6.5" r="5.6" fill="#fff" stroke="#555" stroke-width="1"/></svg>
<span class="t" style="left:956.65px;top:393px;font-size:12.8px;line-height:17px;color:#333;letter-spacing:-0.057px;">Wide</span>
<div class="a" style="left:844px;top:442px;width:96px;height:30px;background:#dedede;border:1px solid #8a8a8a;box-sizing:border-box"></div>
<svg class="a" style="left:851px;top:449px" width="16" height="13" viewBox="0 0 16 13"><rect x="0.9" y="1.6" width="13.8" height="1" fill="#555"/><rect x="0.9" y="5.2" width="13.8" height="1.9" fill="#555"/><rect x="0.9" y="9.2" width="13.8" height="2.6" fill="#555"/></svg>
<span class="t" style="left:872.79px;top:446px;font-size:14.0px;line-height:18px;color:#333;letter-spacing:0.140px;">Outline</span>
<svg class="a" style="left:922px;top:454.5px" width="8" height="5" viewBox="0 0 8 5"><path d="M0.4 0.4H6.6L3.5 3.8Z" fill="#666"/></svg>
<div class="a" style="left:844px;top:492px;width:79px;height:25px;background:#f5f5f5;border:1px solid #adadad;box-sizing:border-box"></div>
<span class="t" style="left:850.75px;top:497px;font-size:12.8px;line-height:17px;color:#222;letter-spacing:0.255px;">Apply to All</span>
<svg class="a" style="left:828px;top:543.7px" width="9" height="8" viewBox="0 0 9 8"><path d="M7.4 0.4V7.2H0.6Z" fill="#333"/></svg>
<span class="t" style="left:844.42px;top:540px;font-size:12.6px;line-height:16px;color:#d24726;letter-spacing:-0.513px;font-weight:bold;">Tasks Position</span>
<span class="t" style="left:848.94px;top:573px;font-size:12.6px;line-height:16px;color:#333;letter-spacing:0.115px;">Position</span>
<svg class="a" style="left:849.8px;top:594.6px" width="13" height="13" viewBox="0 0 13 13"><circle cx="6.5" cy="6.5" r="5.6" fill="#fff" stroke="#555" stroke-width="1"/><circle cx="6.5" cy="6.5" r="3" fill="#1a1a1a"/></svg>
<span class="t" style="left:868.75px;top:594px;font-size:12.8px;line-height:17px;color:#333;letter-spacing:-0.135px;">Above</span>
<div class="a" style="left:8px;top:618px;width:1079px;height:22px;background:#d24726"></div>
<span class="t" style="left:15.29px;top:621px;font-size:11.6px;line-height:15px;color:#fff;letter-spacing:-0.179px;-webkit-text-stroke:0.15px #fff;">Slide 1 of 1</span>
<svg class="a" style="left:91px;top:622px" width="17" height="14" viewBox="0 0 17 14"><path d="M7.5 0.6H1.6V10.5H7.5M7.5 0.6H13.9V2.8M13.9 8.4V10.5H7.5" fill="none" stroke="#fff" stroke-width="1"/><path d="M7.5 0.8V12.4M6.1 11.2L7.5 12.8L8.9 11.2" fill="none" stroke="#fff" stroke-width="1"/><path d="M9.5 6.3L11.2 8L14.9 3.7" fill="none" stroke="#fff" stroke-width="1.5"/></svg>
<span class="t" style="left:122.82px;top:621px;font-size:11.6px;line-height:15px;color:#fff;letter-spacing:-0.010px;-webkit-text-stroke:0.15px #fff;">English (United Kingdom)</span>
<svg class="a" style="left:570px;top:622px" width="12" height="13" viewBox="0 0 12 13"><path d="M6 1L9 4.4H3Z" fill="#fff"/><path d="M0.6 6.5H11.4M0.6 9.5H11.4M0.6 12.5H7.4" stroke="#fff" stroke-width="1"/></svg>
<span class="t" style="left:586.72px;top:621px;font-size:11.6px;line-height:15px;color:#fff;letter-spacing:-0.075px;-webkit-text-stroke:0.15px #fff;">Notes</span>
<svg class="a" style="left:637px;top:623px" width="14" height="13" viewBox="0 0 14 13"><path d="M0.6 0.6H13V8.8H7.4L4.6 12V8.8H0.6Z" fill="#fff"/></svg>
<span class="t" style="left:654.47px;top:621px;font-size:11.6px;line-height:15px;color:#fff;letter-spacing:-0.386px;-webkit-text-stroke:0.15px #fff;">Comments</span>
<div class="a" style="left:727px;top:618px;width:38px;height:22px;background:#b53c20"></div>
<svg class="a" style="left:739px;top:621.6px" width="15" height="14" viewBox="0 0 15 14"><rect x="0.1" y="0.3" width="14" height="12.9" fill="#fff"/><rect x="4.9" y="2.2" width="7.4" height="4.8" fill="#fff" stroke="#b53c20" stroke-width="1"/><rect x="4.2" y="9.3" width="8.6" height="1.9" fill="#b53c20"/></svg>
<svg class="a" style="left:777px;top:622px" width="15" height="13" viewBox="0 0 15 13"><rect x="0.2" y="0.2" width="6" height="5.2" fill="#fff"/><rect x="8.4" y="0.2" width="6" height="5.2" fill="#fff"/><rect x="0.2" y="7.4" width="6" height="5.2" fill="#fff"/><rect x="8.4" y="7.4" width="6" height="5.2" fill="#fff"/></svg>
<svg class="a" style="left:814px;top:622px" width="15" height="13" viewBox="0 0 15 13"><path d="M7.4 1.6V12.4M7.4 1.6C5.6 0.4 3 0.4 0.8 1V11.6C3 11 5.6 11 7.4 12.4C9.2 11 11.8 11 14 11.6V1C11.8 0.4 9.2 0.4 7.4 1.6" fill="none" stroke="#fff" stroke-width="1"/><path d="M2.4 3.4H5.8M2.4 5.6H5.8M2.4 7.8H5.8M9 3.4H12.4M9 5.6H12.4M9 7.8H12.4" stroke="#fff" stroke-width="0.9"/></svg>
<svg class="a" style="left:852px;top:622px" width="15" height="14" viewBox="0 0 15 14"><path d="M0.6 1.4H14" stroke="#fff" stroke-width="1.6"/><path d="M2.2 2V8H12.4V2" fill="none" stroke="#fff" stroke-width="1.3"/><path d="M7.3 8V12M4 12.6H10.6" stroke="#fff" stroke-width="1.3"/></svg>
<div class="a" style="left:884px;top:628px;width:6px;height:2px;background:#fff"></div>
<div class="a" style="left:894px;top:628.5px;width:100px;height:1.0px;background:#fff"></div>
<div class="a" style="left:915.5px;top:622.5px;width:3.5px;height:12.5px;background:#fff"></div>
<div class="a" style="left:944.3px;top:626px;width:1.0px;height:6px;background:#fff"></div>
<svg class="a" style="left:998px;top:625px" width="9" height="9" viewBox="0 0 9 9"><path d="M0.4 4.2H7.8M4.1 0.4V8" stroke="#fff" stroke-width="1.8"/></svg>
<span class="t" style="left:1021.02px;top:621px;font-size:11.6px;line-height:15px;color:#fff;letter-spacing:-0.960px;-webkit-text-stroke:0.15px #fff;">49%</span>
<svg class="a" style="left:1056px;top:623px" width="15" height="14" viewBox="0 0 15 14"><rect x="1.5" y="0.5" width="12" height="12" fill="none" stroke="#fff" stroke-width="1"/><path d="M7.5 2.4V5M7.5 8V10.6M3.4 6.5H6M9 6.5H11.6" stroke="#fff" stroke-width="1"/><path d="M6.1 3.6L7.5 5.2L8.9 3.6M6.1 9.4L7.5 7.8L8.9 9.4M4.6 5.1L6.2 6.5L4.6 7.9M10.4 5.1L8.8 6.5L10.4 7.9" fill="none" stroke="#fff" stroke-width="0.9"/></svg>
</body></html>
